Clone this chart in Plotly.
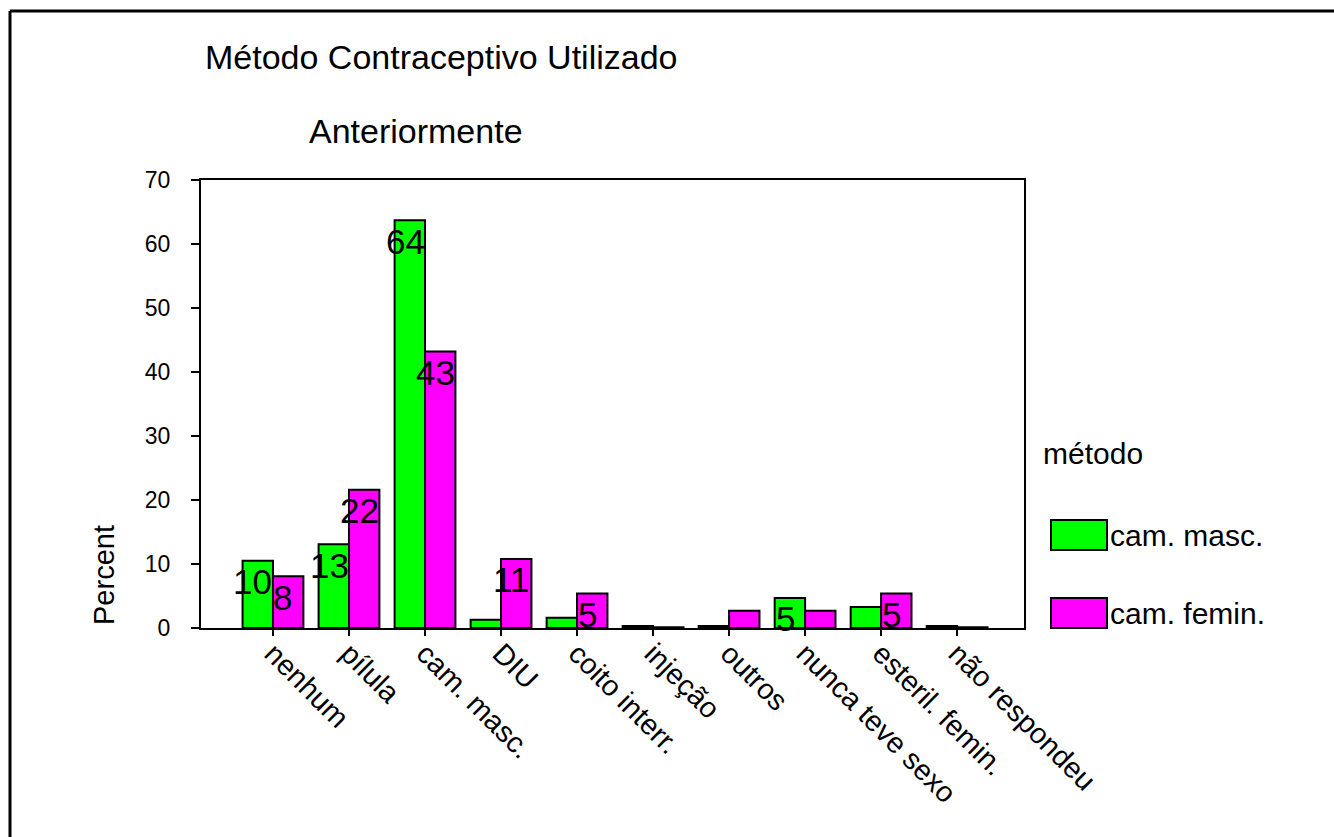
import plotly.graph_objects as go

categories = ["nenhum", "pílula", "cam. masc.", "DIU", "coito interr.", "injeção",
              "outros", "nunca teve sexo", "esteril. femin.", "não respondeu"]
masc_values = [10.5, 13.1, 63.7, 1.3, 1.6, 0.3, 0.3, 4.7, 3.3, 0.3]
femin_values = [8.1, 21.6, 43.2, 10.8, 5.4, 0.1, 2.7, 2.7, 5.4, 0.1]
series_names = ["cam. masc.", "cam. femin."]
series_colors = ["#00FF00", "#FF00FF"]
y_ticks = [0, 10, 20, 30, 40, 50, 60, 70]

W, H = 1334, 837
L, R, T, B = 201, 1024, 180, 628  # plot area in pixels


def px(x):
    return (x - L) / (R - L)


def py(y):
    return (B - y) / (B - T)


FONT = "Arial, Liberation Sans, sans-serif"

fig = go.Figure()
for name, vals, col in zip(series_names, [masc_values, femin_values], series_colors):
    fig.add_trace(go.Bar(
        x=categories, y=vals, name=name,
        marker=dict(color=col, line=dict(color="black", width=2)),
        showlegend=False, hoverinfo="x+y",
    ))

annotations = []
# data labels
for vals, shift in zip([masc_values, femin_values], [-20, 10]):
    for c, v in zip(categories, vals):
        if v >= 4.5:
            annotations.append(dict(
                x=c, y=v, xref="x", yref="y", text=str(round(v)), showarrow=False,
                xshift=shift, yshift=-21, yanchor="middle", xanchor="center",
                font=dict(family=FONT, size=35, color="black")))

# titles
annotations.append(dict(x=px(203), y=py(57), xref="paper", yref="paper",
                        text="Método Contraceptivo Utilizado", showarrow=False,
                        xanchor="left", yanchor="middle",
                        font=dict(family=FONT, size=34, color="black")))
annotations.append(dict(x=px(307), y=py(131), xref="paper", yref="paper",
                        text="Anteriormente", showarrow=False,
                        xanchor="left", yanchor="middle",
                        font=dict(family=FONT, size=34, color="black")))
# y axis label
annotations.append(dict(x=px(104), y=py(575), xref="paper", yref="paper",
                        text="Percent", showarrow=False, textangle=-90,
                        xanchor="center", yanchor="middle",
                        font=dict(family=FONT, size=29, color="black")))
# legend
annotations.append(dict(x=px(1041), y=py(453), xref="paper", yref="paper",
                        text="método", showarrow=False,
                        xanchor="left", yanchor="middle",
                        font=dict(family=FONT, size=30, color="black")))
shapes = []
for name, col, yc in zip(series_names, series_colors, [535, 613]):
    shapes.append(dict(type="rect", xref="paper", yref="paper",
                       x0=px(1051), x1=px(1107), y0=py(yc + 15), y1=py(yc - 15),
                       fillcolor=col, line=dict(color="black", width=2)))
    annotations.append(dict(x=px(1108), y=py(yc), xref="paper", yref="paper",
                            text=name, showarrow=False,
                            xanchor="left", yanchor="middle",
                            font=dict(family=FONT, size=30, color="black")))

# outer frame (left and top lines)
shapes.append(dict(type="line", xref="paper", yref="paper",
                   x0=px(10), x1=px(10), y0=py(840), y1=py(11),
                   line=dict(color="black", width=3)))
shapes.append(dict(type="line", xref="paper", yref="paper",
                   x0=px(10), x1=px(1340), y0=py(11), y1=py(11),
                   line=dict(color="black", width=3)))

fig.update_layout(
    width=W, height=H,
    margin=dict(l=L, r=W - R, t=T, b=H - B, pad=0),
    paper_bgcolor="white", plot_bgcolor="white",
    barmode="group", bargap=0.2, bargroupgap=0,
    font=dict(family=FONT, color="black"),
    annotations=annotations, shapes=shapes,
    showlegend=False,
)
fig.update_xaxes(
    type="category", range=[-0.947, 9.88],
    showline=True, linecolor="black", linewidth=2, mirror=True,
    ticks="outside", ticklen=6, tickwidth=2, tickcolor="black",
    tickangle=45, tickfont=dict(family=FONT, size=29, color="black"),
    ticklabelstandoff=-11, showgrid=False, zeroline=False,
)
fig.update_yaxes(
    range=[0, 70], tickvals=y_ticks,
    showline=True, linecolor="black", linewidth=2, mirror=True,
    ticks="outside", ticklen=8, tickwidth=2, tickcolor="black",
    tickfont=dict(family=FONT, size=23, color="black"),
    ticklabelstandoff=16, showgrid=False, zeroline=False,
)

fig.write_html("out.html", post_script="document.body.style.margin='0px';",
               config={"displayModeBar": False})
